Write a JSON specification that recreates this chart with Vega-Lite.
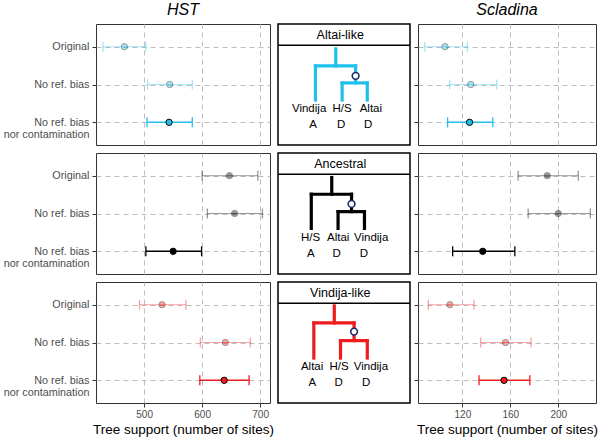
{
"$schema": "https://vega.github.io/schema/vega-lite/v6.json",
"padding": {"left": 2, "top": 1, "right": 2, "bottom": 2},
"datasets": {
"est": [
{"site":"HST","tree":"Altai-like","cond":"Original","est":466,"lo":429,"hi":503},
{"site":"HST","tree":"Altai-like","cond":"No ref. bias","est":544,"lo":506,"hi":583},
{"site":"HST","tree":"Altai-like","cond":"No ref. bias nor contamination","est":543,"lo":505,"hi":583},
{"site":"HST","tree":"Ancestral","cond":"Original","est":647,"lo":600,"hi":696},
{"site":"HST","tree":"Ancestral","cond":"No ref. bias","est":656,"lo":609,"hi":704},
{"site":"HST","tree":"Ancestral","cond":"No ref. bias nor contamination","est":550,"lo":503,"hi":599},
{"site":"HST","tree":"Vindija-like","cond":"Original","est":531,"lo":492,"hi":572},
{"site":"HST","tree":"Vindija-like","cond":"No ref. bias","est":640,"lo":597,"hi":683},
{"site":"HST","tree":"Vindija-like","cond":"No ref. bias nor contamination","est":638,"lo":596,"hi":681},
{"site":"Scladina","tree":"Altai-like","cond":"Original","est":105.5,"lo":88.7,"hi":124.2},
{"site":"Scladina","tree":"Altai-like","cond":"No ref. bias","est":127,"lo":109.4,"hi":148.7},
{"site":"Scladina","tree":"Altai-like","cond":"No ref. bias nor contamination","est":126,"lo":107.7,"hi":145.4},
{"site":"Scladina","tree":"Ancestral","cond":"Original","est":190.8,"lo":166.5,"hi":216.7},
{"site":"Scladina","tree":"Ancestral","cond":"No ref. bias","est":200,"lo":174.9,"hi":226.8},
{"site":"Scladina","tree":"Ancestral","cond":"No ref. bias nor contamination","est":137,"lo":111.9,"hi":163.8},
{"site":"Scladina","tree":"Vindija-like","cond":"Original","est":109.6,"lo":91.6,"hi":129.7},
{"site":"Scladina","tree":"Vindija-like","cond":"No ref. bias","est":156,"lo":135.3,"hi":177.4},
{"site":"Scladina","tree":"Vindija-like","cond":"No ref. bias nor contamination","est":154.8,"lo":133.9,"hi":176.3}
],
"seg": [
{"tree":"Altai-like","x":61.3,"y":26.7,"x2":61.3,"y2":45},
{"tree":"Altai-like","x":39.7,"y":45,"x2":82.3,"y2":45},
{"tree":"Altai-like","x":39.7,"y":45,"x2":39.7,"y2":81.7},
{"tree":"Altai-like","x":82.3,"y":45,"x2":82.3,"y2":63.3},
{"tree":"Altai-like","x":68,"y":63.3,"x2":94.7,"y2":63.3},
{"tree":"Altai-like","x":68,"y":63.3,"x2":68,"y2":81.7},
{"tree":"Altai-like","x":94.7,"y":63.3,"x2":94.7,"y2":81.7},
{"tree":"Ancestral","x":57,"y":26.3,"x2":57,"y2":44.3},
{"tree":"Ancestral","x":35.3,"y":44.3,"x2":78,"y2":44.3},
{"tree":"Ancestral","x":35.3,"y":44.3,"x2":35.3,"y2":81},
{"tree":"Ancestral","x":78,"y":44.3,"x2":78,"y2":63},
{"tree":"Ancestral","x":63.7,"y":63,"x2":91.7,"y2":63},
{"tree":"Ancestral","x":63.7,"y":63,"x2":63.7,"y2":81},
{"tree":"Ancestral","x":91.7,"y":63,"x2":91.7,"y2":81},
{"tree":"Vindija-like","x":59.7,"y":25.7,"x2":59.7,"y2":44},
{"tree":"Vindija-like","x":38,"y":44,"x2":80.7,"y2":44},
{"tree":"Vindija-like","x":38,"y":44,"x2":38,"y2":81.7},
{"tree":"Vindija-like","x":80.7,"y":44,"x2":80.7,"y2":63},
{"tree":"Vindija-like","x":66.3,"y":63,"x2":94.7,"y2":63},
{"tree":"Vindija-like","x":66.3,"y":63,"x2":66.3,"y2":81.7},
{"tree":"Vindija-like","x":94.7,"y":63,"x2":94.7,"y2":81.7}
],
"node": [
{"tree":"Altai-like","x":82.3,"y":55.7},
{"tree":"Ancestral","x":78,"y":54.7},
{"tree":"Vindija-like","x":80.7,"y":53.3}
],
"lab": [
{"tree":"Altai-like","label":"Vindija","x":33,"y":91.5},
{"tree":"Altai-like","label":"H/S","x":68,"y":91.5},
{"tree":"Altai-like","label":"Altai","x":98.5,"y":91.5},
{"tree":"Altai-like","label":"A","x":37.2,"y":109},
{"tree":"Altai-like","label":"D","x":67,"y":109},
{"tree":"Altai-like","label":"D","x":95.5,"y":109},
{"tree":"Ancestral","label":"H/S","x":34.5,"y":91.5},
{"tree":"Ancestral","label":"Altai","x":63.8,"y":91.5},
{"tree":"Ancestral","label":"Vindija","x":98.8,"y":91.5},
{"tree":"Ancestral","label":"A","x":34.7,"y":109},
{"tree":"Ancestral","label":"D","x":62.2,"y":109},
{"tree":"Ancestral","label":"D","x":91,"y":109},
{"tree":"Vindija-like","label":"Altai","x":36.2,"y":91.5},
{"tree":"Vindija-like","label":"H/S","x":64.8,"y":91.5},
{"tree":"Vindija-like","label":"Vindija","x":98.5,"y":91.5},
{"tree":"Vindija-like","label":"A","x":36.3,"y":109},
{"tree":"Vindija-like","label":"D","x":64.3,"y":109},
{"tree":"Vindija-like","label":"D","x":93.5,"y":109}
]
},
"columns": 3,
"spacing": {"row": 8, "column": 8},
"bounds": "flush",
"concat": [
{
"title": "HST",
"width": 174, "height": 121,
"data": {"name": "est"},
"transform": [{"filter": "datum.site == 'HST' && datum.tree == 'Altai-like'"}],
"encoding": {"y": {"field": "cond", "type": "nominal", "sort": ["Original","No ref. bias","No ref. bias nor contamination"], "scale": {"type": "point", "padding": 0.6}, "axis": {"title": null, "labelPadding": 3, "labelLineHeight": 12, "labelExpr": "datum.value == 'No ref. bias nor contamination' ? ['No ref. bias', 'nor contamination'] : datum.value"}},
  "opacity": {"condition": {"test": "datum.cond == 'No ref. bias nor contamination'", "value": 1}, "value": 0.4}},
"layer": [
{"mark": {"type": "rule", "color": "#1ec0ec"}, "encoding": {"x": {"field": "lo", "type": "quantitative", "title": null, "scale": {"domain": [417, 717], "nice": false, "zero": false}, "axis": {"labels": false, "ticks": false, "values": [500, 600, 700]}}, "x2": {"field": "hi"}, "strokeWidth": {"condition": {"test": "datum.cond == 'No ref. bias nor contamination'", "value": 1.6}, "value": 1}}},
{"mark": {"type": "tick", "color": "#1ec0ec", "size": 10, "thickness": 1.3}, "encoding": {"x": {"field": "lo", "type": "quantitative", "title": null, "axis": {"labels": false, "ticks": false, "values": [500, 600, 700]}}}},
{"mark": {"type": "tick", "color": "#1ec0ec", "size": 10, "thickness": 1.3}, "encoding": {"x": {"field": "hi", "type": "quantitative", "title": null, "axis": {"labels": false, "ticks": false, "values": [500, 600, 700]}}}},
{"mark": {"type": "point", "filled": true, "size": 40, "fill": "#1ec0ec", "stroke": "black", "strokeWidth": 1}, "encoding": {"x": {"field": "est", "type": "quantitative", "title": null, "axis": {"labels": false, "ticks": false, "values": [500, 600, 700]}}}}
]
},
{
"width": 132, "height": 121,
"view": {"stroke": "black", "strokeWidth": 1.5},
"layer": [
{"data": {"name": "seg"}, "transform": [{"filter": "datum.tree == 'Altai-like'"}], "mark": {"type": "rule", "color": "#1ec0ec", "strokeWidth": 3.2, "strokeCap": "square"}, "encoding": {"x": {"field": "x", "type": "quantitative", "scale": {"domain": [0, 132]}, "axis": null}, "y": {"field": "y", "type": "quantitative", "scale": {"domain": [0, 121], "reverse": true}, "axis": null}, "x2": {"field": "x2"}, "y2": {"field": "y2"}}},
{"data": {"name": "node"}, "transform": [{"filter": "datum.tree == 'Altai-like'"}], "mark": {"type": "point", "filled": true, "fill": "white", "stroke": "#1b2a6b", "strokeWidth": 1.6, "size": 45, "opacity": 1}, "encoding": {"x": {"field": "x", "type": "quantitative", "axis": null}, "y": {"field": "y", "type": "quantitative", "axis": null}}},
{"data": {"name": "lab"}, "transform": [{"filter": "datum.tree == 'Altai-like'"}], "mark": {"type": "text", "fontSize": 11.5, "color": "black", "baseline": "middle", "align": "center"}, "encoding": {"x": {"field": "x", "type": "quantitative", "axis": null}, "y": {"field": "y", "type": "quantitative", "axis": null}, "text": {"field": "label"}}},
{"data": {"values": [{}]}, "mark": {"type": "rule", "color": "black", "strokeWidth": 1.5}, "encoding": {"y": {"datum": 22.7, "axis": null}}},
{"data": {"values": [{}]}, "mark": {"type": "text", "fontSize": 12.5, "color": "black", "baseline": "middle", "align": "center"}, "encoding": {"x": {"datum": 66, "axis": null}, "y": {"datum": 11.6, "axis": null}, "text": {"value": "Altai-like"}}}
]
},
{
"title": "Scladina",
"width": 178, "height": 121,
"data": {"name": "est"},
"transform": [{"filter": "datum.site == 'Scladina' && datum.tree == 'Altai-like'"}],
"encoding": {"y": {"field": "cond", "type": "nominal", "sort": ["Original","No ref. bias","No ref. bias nor contamination"], "scale": {"type": "point", "padding": 0.6}, "axis": {"title": null, "labels": false}},
  "opacity": {"condition": {"test": "datum.cond == 'No ref. bias nor contamination'", "value": 1}, "value": 0.4}},
"layer": [
{"mark": {"type": "rule", "color": "#1ec0ec"}, "encoding": {"x": {"field": "lo", "type": "quantitative", "title": null, "scale": {"domain": [83, 231.5], "nice": false, "zero": false}, "axis": {"labels": false, "ticks": false, "values": [120, 160, 200]}}, "x2": {"field": "hi"}, "strokeWidth": {"condition": {"test": "datum.cond == 'No ref. bias nor contamination'", "value": 1.6}, "value": 1}}},
{"mark": {"type": "tick", "color": "#1ec0ec", "size": 10, "thickness": 1.3}, "encoding": {"x": {"field": "lo", "type": "quantitative", "title": null, "axis": {"labels": false, "ticks": false, "values": [120, 160, 200]}}}},
{"mark": {"type": "tick", "color": "#1ec0ec", "size": 10, "thickness": 1.3}, "encoding": {"x": {"field": "hi", "type": "quantitative", "title": null, "axis": {"labels": false, "ticks": false, "values": [120, 160, 200]}}}},
{"mark": {"type": "point", "filled": true, "size": 40, "fill": "#1ec0ec", "stroke": "black", "strokeWidth": 1}, "encoding": {"x": {"field": "est", "type": "quantitative", "title": null, "axis": {"labels": false, "ticks": false, "values": [120, 160, 200]}}}}
]
},
{
"width": 174, "height": 121,
"data": {"name": "est"},
"transform": [{"filter": "datum.site == 'HST' && datum.tree == 'Ancestral'"}],
"encoding": {"y": {"field": "cond", "type": "nominal", "sort": ["Original","No ref. bias","No ref. bias nor contamination"], "scale": {"type": "point", "padding": 0.6}, "axis": {"title": null, "labelPadding": 3, "labelLineHeight": 12, "labelExpr": "datum.value == 'No ref. bias nor contamination' ? ['No ref. bias', 'nor contamination'] : datum.value"}},
  "opacity": {"condition": {"test": "datum.cond == 'No ref. bias nor contamination'", "value": 1}, "value": 0.4}},
"layer": [
{"mark": {"type": "rule", "color": "black"}, "encoding": {"x": {"field": "lo", "type": "quantitative", "title": null, "scale": {"domain": [417, 717], "nice": false, "zero": false}, "axis": {"labels": false, "ticks": false, "values": [500, 600, 700]}}, "x2": {"field": "hi"}, "strokeWidth": {"condition": {"test": "datum.cond == 'No ref. bias nor contamination'", "value": 1.6}, "value": 1}}},
{"mark": {"type": "tick", "color": "black", "size": 10, "thickness": 1.3}, "encoding": {"x": {"field": "lo", "type": "quantitative", "title": null, "axis": {"labels": false, "ticks": false, "values": [500, 600, 700]}}}},
{"mark": {"type": "tick", "color": "black", "size": 10, "thickness": 1.3}, "encoding": {"x": {"field": "hi", "type": "quantitative", "title": null, "axis": {"labels": false, "ticks": false, "values": [500, 600, 700]}}}},
{"mark": {"type": "point", "filled": true, "size": 40, "fill": "black", "stroke": "black", "strokeWidth": 1}, "encoding": {"x": {"field": "est", "type": "quantitative", "title": null, "axis": {"labels": false, "ticks": false, "values": [500, 600, 700]}}}}
]
},
{
"width": 132, "height": 121,
"view": {"stroke": "black", "strokeWidth": 1.5},
"layer": [
{"data": {"name": "seg"}, "transform": [{"filter": "datum.tree == 'Ancestral'"}], "mark": {"type": "rule", "color": "black", "strokeWidth": 3.2, "strokeCap": "square"}, "encoding": {"x": {"field": "x", "type": "quantitative", "scale": {"domain": [0, 132]}, "axis": null}, "y": {"field": "y", "type": "quantitative", "scale": {"domain": [0, 121], "reverse": true}, "axis": null}, "x2": {"field": "x2"}, "y2": {"field": "y2"}}},
{"data": {"name": "node"}, "transform": [{"filter": "datum.tree == 'Ancestral'"}], "mark": {"type": "point", "filled": true, "fill": "white", "stroke": "#1b2a6b", "strokeWidth": 1.6, "size": 45, "opacity": 1}, "encoding": {"x": {"field": "x", "type": "quantitative", "axis": null}, "y": {"field": "y", "type": "quantitative", "axis": null}}},
{"data": {"name": "lab"}, "transform": [{"filter": "datum.tree == 'Ancestral'"}], "mark": {"type": "text", "fontSize": 11.5, "color": "black", "baseline": "middle", "align": "center"}, "encoding": {"x": {"field": "x", "type": "quantitative", "axis": null}, "y": {"field": "y", "type": "quantitative", "axis": null}, "text": {"field": "label"}}},
{"data": {"values": [{}]}, "mark": {"type": "rule", "color": "black", "strokeWidth": 1.5}, "encoding": {"y": {"datum": 22.7, "axis": null}}},
{"data": {"values": [{}]}, "mark": {"type": "text", "fontSize": 12.5, "color": "black", "baseline": "middle", "align": "center"}, "encoding": {"x": {"datum": 66, "axis": null}, "y": {"datum": 11.6, "axis": null}, "text": {"value": "Ancestral"}}}
]
},
{
"width": 178, "height": 121,
"data": {"name": "est"},
"transform": [{"filter": "datum.site == 'Scladina' && datum.tree == 'Ancestral'"}],
"encoding": {"y": {"field": "cond", "type": "nominal", "sort": ["Original","No ref. bias","No ref. bias nor contamination"], "scale": {"type": "point", "padding": 0.6}, "axis": {"title": null, "labels": false}},
  "opacity": {"condition": {"test": "datum.cond == 'No ref. bias nor contamination'", "value": 1}, "value": 0.4}},
"layer": [
{"mark": {"type": "rule", "color": "black"}, "encoding": {"x": {"field": "lo", "type": "quantitative", "title": null, "scale": {"domain": [83, 231.5], "nice": false, "zero": false}, "axis": {"labels": false, "ticks": false, "values": [120, 160, 200]}}, "x2": {"field": "hi"}, "strokeWidth": {"condition": {"test": "datum.cond == 'No ref. bias nor contamination'", "value": 1.6}, "value": 1}}},
{"mark": {"type": "tick", "color": "black", "size": 10, "thickness": 1.3}, "encoding": {"x": {"field": "lo", "type": "quantitative", "title": null, "axis": {"labels": false, "ticks": false, "values": [120, 160, 200]}}}},
{"mark": {"type": "tick", "color": "black", "size": 10, "thickness": 1.3}, "encoding": {"x": {"field": "hi", "type": "quantitative", "title": null, "axis": {"labels": false, "ticks": false, "values": [120, 160, 200]}}}},
{"mark": {"type": "point", "filled": true, "size": 40, "fill": "black", "stroke": "black", "strokeWidth": 1}, "encoding": {"x": {"field": "est", "type": "quantitative", "title": null, "axis": {"labels": false, "ticks": false, "values": [120, 160, 200]}}}}
]
},
{
"width": 174, "height": 121,
"data": {"name": "est"},
"transform": [{"filter": "datum.site == 'HST' && datum.tree == 'Vindija-like'"}],
"encoding": {"y": {"field": "cond", "type": "nominal", "sort": ["Original","No ref. bias","No ref. bias nor contamination"], "scale": {"type": "point", "padding": 0.6}, "axis": {"title": null, "labelPadding": 3, "labelLineHeight": 12, "labelExpr": "datum.value == 'No ref. bias nor contamination' ? ['No ref. bias', 'nor contamination'] : datum.value"}},
  "opacity": {"condition": {"test": "datum.cond == 'No ref. bias nor contamination'", "value": 1}, "value": 0.4}},
"layer": [
{"mark": {"type": "rule", "color": "#ee1c1c"}, "encoding": {"x": {"field": "lo", "type": "quantitative", "title": "Tree support (number of sites)", "scale": {"domain": [417, 717], "nice": false, "zero": false}, "axis": {"values": [500, 600, 700], "labelFontSize": 10, "labelPadding": 2, "titlePadding": 3}}, "x2": {"field": "hi"}, "strokeWidth": {"condition": {"test": "datum.cond == 'No ref. bias nor contamination'", "value": 1.6}, "value": 1}}},
{"mark": {"type": "tick", "color": "#ee1c1c", "size": 10, "thickness": 1.3}, "encoding": {"x": {"field": "lo", "type": "quantitative", "title": "Tree support (number of sites)", "axis": {"values": [500, 600, 700], "labelFontSize": 10, "labelPadding": 2, "titlePadding": 3}}}},
{"mark": {"type": "tick", "color": "#ee1c1c", "size": 10, "thickness": 1.3}, "encoding": {"x": {"field": "hi", "type": "quantitative", "title": "Tree support (number of sites)", "axis": {"values": [500, 600, 700], "labelFontSize": 10, "labelPadding": 2, "titlePadding": 3}}}},
{"mark": {"type": "point", "filled": true, "size": 40, "fill": "#ee1c1c", "stroke": "black", "strokeWidth": 1}, "encoding": {"x": {"field": "est", "type": "quantitative", "title": "Tree support (number of sites)", "axis": {"values": [500, 600, 700], "labelFontSize": 10, "labelPadding": 2, "titlePadding": 3}}}}
]
},
{
"width": 132, "height": 121,
"view": {"stroke": "black", "strokeWidth": 1.5},
"layer": [
{"data": {"name": "seg"}, "transform": [{"filter": "datum.tree == 'Vindija-like'"}], "mark": {"type": "rule", "color": "#ee1c1c", "strokeWidth": 3.2, "strokeCap": "square"}, "encoding": {"x": {"field": "x", "type": "quantitative", "scale": {"domain": [0, 132]}, "axis": null}, "y": {"field": "y", "type": "quantitative", "scale": {"domain": [0, 121], "reverse": true}, "axis": null}, "x2": {"field": "x2"}, "y2": {"field": "y2"}}},
{"data": {"name": "node"}, "transform": [{"filter": "datum.tree == 'Vindija-like'"}], "mark": {"type": "point", "filled": true, "fill": "white", "stroke": "#1b2a6b", "strokeWidth": 1.6, "size": 45, "opacity": 1}, "encoding": {"x": {"field": "x", "type": "quantitative", "axis": null}, "y": {"field": "y", "type": "quantitative", "axis": null}}},
{"data": {"name": "lab"}, "transform": [{"filter": "datum.tree == 'Vindija-like'"}], "mark": {"type": "text", "fontSize": 11.5, "color": "black", "baseline": "middle", "align": "center"}, "encoding": {"x": {"field": "x", "type": "quantitative", "axis": null}, "y": {"field": "y", "type": "quantitative", "axis": null}, "text": {"field": "label"}}},
{"data": {"values": [{}]}, "mark": {"type": "rule", "color": "black", "strokeWidth": 1.5}, "encoding": {"y": {"datum": 22.7, "axis": null}}},
{"data": {"values": [{}]}, "mark": {"type": "text", "fontSize": 12.5, "color": "black", "baseline": "middle", "align": "center"}, "encoding": {"x": {"datum": 66, "axis": null}, "y": {"datum": 11.6, "axis": null}, "text": {"value": "Vindija-like"}}}
]
},
{
"width": 178, "height": 121,
"data": {"name": "est"},
"transform": [{"filter": "datum.site == 'Scladina' && datum.tree == 'Vindija-like'"}],
"encoding": {"y": {"field": "cond", "type": "nominal", "sort": ["Original","No ref. bias","No ref. bias nor contamination"], "scale": {"type": "point", "padding": 0.6}, "axis": {"title": null, "labels": false}},
  "opacity": {"condition": {"test": "datum.cond == 'No ref. bias nor contamination'", "value": 1}, "value": 0.4}},
"layer": [
{"mark": {"type": "rule", "color": "#ee1c1c"}, "encoding": {"x": {"field": "lo", "type": "quantitative", "title": "Tree support (number of sites)", "scale": {"domain": [83, 231.5], "nice": false, "zero": false}, "axis": {"values": [120, 160, 200], "labelFontSize": 10, "labelPadding": 2, "titlePadding": 3}}, "x2": {"field": "hi"}, "strokeWidth": {"condition": {"test": "datum.cond == 'No ref. bias nor contamination'", "value": 1.6}, "value": 1}}},
{"mark": {"type": "tick", "color": "#ee1c1c", "size": 10, "thickness": 1.3}, "encoding": {"x": {"field": "lo", "type": "quantitative", "title": "Tree support (number of sites)", "axis": {"values": [120, 160, 200], "labelFontSize": 10, "labelPadding": 2, "titlePadding": 3}}}},
{"mark": {"type": "tick", "color": "#ee1c1c", "size": 10, "thickness": 1.3}, "encoding": {"x": {"field": "hi", "type": "quantitative", "title": "Tree support (number of sites)", "axis": {"values": [120, 160, 200], "labelFontSize": 10, "labelPadding": 2, "titlePadding": 3}}}},
{"mark": {"type": "point", "filled": true, "size": 40, "fill": "#ee1c1c", "stroke": "black", "strokeWidth": 1}, "encoding": {"x": {"field": "est", "type": "quantitative", "title": "Tree support (number of sites)", "axis": {"values": [120, 160, 200], "labelFontSize": 10, "labelPadding": 2, "titlePadding": 3}}}}
]
}
],
"config": {
"font": "Liberation Sans",
"view": {"stroke": "#333333", "strokeWidth": 1},
"title": {"fontSize": 16, "fontStyle": "italic", "fontWeight": "normal", "offset": 6, "color": "black"},
"axis": {"domain": false, "grid": true, "gridColor": "#bdbdbd", "gridDash": [5, 4], "gridWidth": 1, "tickColor": "#333333", "tickSize": 4, "labelColor": "#4d4d4d", "labelFontSize": 10.8, "titleFontWeight": "normal", "titleColor": "black", "titleFontSize": 13.5}
}
}
